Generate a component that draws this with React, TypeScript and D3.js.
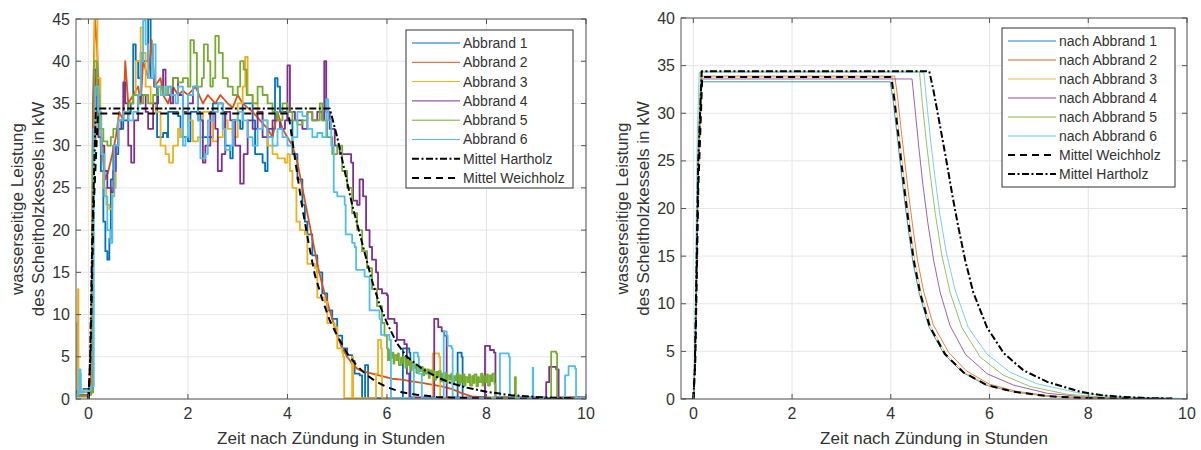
import React from 'react';
import * as d3 from 'd3';

type Pt = [number, number];

const COLORS = ['#0072BD', '#D95319', '#EDB120', '#7E2F8E', '#77AC30', '#4DBEEE'];
const LEFT_LABELS = ['Abbrand 1', 'Abbrand 2', 'Abbrand 3', 'Abbrand 4', 'Abbrand 5', 'Abbrand 6'];
const RIGHT_LABELS = ['nach Abbrand 1', 'nach Abbrand 2', 'nach Abbrand 3', 'nach Abbrand 4', 'nach Abbrand 5', 'nach Abbrand 6'];
const X_TICKS = [0, 2, 4, 6, 8, 10];
const LEFT_Y_TICKS = [0, 5, 10, 15, 20, 25, 30, 35, 40, 45];
const RIGHT_Y_TICKS = [0, 5, 10, 15, 20, 25, 30, 35, 40];
const X_LABEL = 'Zeit nach Zündung in Stunden';
const Y_LABEL_1 = 'wasserseitige Leistung';
const Y_LABEL_2 = 'des Scheitholzkessels in kW';

// ---------- left: measured burns ----------
const abbrand1: Pt[] = [[-0.25,0.5],[-0.23,1],[-0.22,9],[-0.21,1],[-0.18,3],[-0.16,0.8],[-0.1,1.2],[0,1],[0.05,1.5],[0.1,30],[0.14,38],[0.2,33],[0.25,27],[0.3,21],[0.34,17.5],[0.38,16.5],[0.42,19],[0.45,26],[0.5,30],[0.55,29],[0.6,32],[0.7,33],[0.8,34],[0.85,35],[0.9,42],[0.95,40],[1.0,38],[1.05,41],[1.1,40],[1.2,45],[1.25,38],[1.32,37],[1.38,31],[1.5,31.5],[1.58,31],[1.6,34],[1.8,33.5],[1.85,31],[2.0,30.5],[2.05,34],[2.25,33],[2.3,31],[2.45,31],[2.5,35],[2.7,34],[2.75,30],[2.85,28.5],[2.9,33],[3.05,32],[3.1,35],[3.3,33],[3.35,29],[3.5,28],[3.55,27],[3.6,31],[3.7,32],[3.75,38],[3.8,37],[3.85,34],[4.0,33],[4.1,29],[4.2,26],[4.3,23],[4.35,21],[4.4,19.5],[4.5,17],[4.6,15],[4.7,12.5],[4.8,10.5],[4.9,9.5],[5.0,7.5],[5.1,6],[5.2,5.2],[5.3,4.5],[5.35,3],[5.45,2.8],[5.5,0.1],[5.55,0.1],[5.56,4],[5.6,4],[5.62,0.1],[6.3,0.1],[6.32,6],[6.45,5.5],[6.47,0.1],[7.4,0.1],[7.42,5.5],[7.5,5],[7.52,0.1],[10,0.1]];
const abbrand2: Pt[] = [[-0.25,0.3],[-0.2,0.5],[0,0.5],[0.05,1],[0.09,35],[0.13,45],[0.17,42],[0.22,35],[0.28,29],[0.34,26],[0.4,27],[0.48,29],[0.55,31],[0.62,34],[0.7,33],[0.74,40],[0.8,35],[0.9,36],[1.0,37],[1.05,35],[1.1,40],[1.2,38],[1.27,42.5],[1.33,37],[1.45,38],[1.5,36],[1.6,35],[1.7,37],[1.8,36],[1.9,36.5],[2.0,36],[2.15,37],[2.3,35],[2.4,36],[2.55,35],[2.65,36],[2.8,35],[2.9,34.5],[3.0,36],[3.1,35],[3.2,34.5],[3.3,34],[3.45,33],[3.6,32],[3.7,31],[3.8,34],[3.9,32],[4.0,31],[4.1,30],[4.2,28],[4.3,25],[4.4,22],[4.5,19],[4.6,16],[4.7,13.5],[4.8,11.5],[4.9,9.5],[5.0,7.5],[5.1,6],[5.2,5],[5.3,4.2],[5.4,3.6],[5.5,3.3],[5.7,3],[5.9,2.7],[6.1,2.4],[6.3,2.3],[6.5,2.1],[6.7,1.9],[6.9,1.7],[7.1,1.5],[7.3,1.2],[7.5,0.7],[7.7,0.3],[8.0,0.2],[8.5,0.2],[9,0.1],[10,0.2]];
const abbrand3: Pt[] = [[-0.25,0.5],[-0.22,0.5],[-0.21,13],[-0.2,0.8],[-0.1,1],[0,1],[0.05,1.2],[0.08,30],[0.12,45],[0.18,38],[0.24,30],[0.3,25],[0.36,23],[0.42,22.5],[0.48,25],[0.55,30],[0.6,33],[0.7,34],[0.8,35],[0.9,36],[0.95,40],[1.05,44],[1.1,41],[1.15,37],[1.25,35],[1.35,34],[1.45,30],[1.55,29],[1.62,28],[1.7,30],[1.8,32],[1.85,31],[1.9,34],[2.0,33],[2.1,30.5],[2.2,31],[2.3,34],[2.45,33],[2.5,30.5],[2.6,31],[2.7,33],[2.8,32],[2.9,31],[3.0,35],[3.1,37],[3.15,40.5],[3.2,36],[3.3,35],[3.4,34],[3.5,33],[3.6,30],[3.7,29],[3.8,28.5],[3.95,28],[4.0,29],[4.05,27],[4.1,25],[4.18,21],[4.25,20],[4.35,19.5],[4.4,16],[4.55,15.5],[4.6,12],[4.75,11.5],[4.8,9],[4.95,8.5],[5.0,6],[5.1,5.5],[5.12,5],[5.14,0.1],[5.28,0.1],[5.3,5],[5.32,0.1],[5.75,0.1],[5.78,3],[5.82,7],[5.88,6],[5.9,0.1],[6.9,0.1],[6.92,5.4],[7.05,5],[7.07,0.1],[10,0.2]];
const abbrand4: Pt[] = [[-0.25,0.3],[0,0.5],[0.05,0.8],[0.09,30],[0.12,39],[0.16,34],[0.2,31],[0.26,30],[0.32,27],[0.38,25],[0.45,24.5],[0.5,27],[0.55,30],[0.6,32],[0.66,33],[0.7,37.5],[0.74,35],[0.8,30],[0.86,28],[0.92,33],[1.0,35],[1.05,36],[1.15,34],[1.2,32],[1.3,35],[1.4,37],[1.5,39],[1.55,36],[1.65,35],[1.7,38],[1.8,36],[1.9,34],[2.0,35],[2.1,37],[2.2,33],[2.3,28],[2.35,30],[2.45,34],[2.55,32],[2.6,27],[2.68,29],[2.75,34],[2.85,33],[2.95,30],[3.05,25.5],[3.12,29],[3.2,33],[3.3,32],[3.4,34],[3.5,31],[3.6,32],[3.7,33],[3.85,32],[3.95,33],[4.0,39.5],[4.05,34],[4.15,33],[4.3,32],[4.4,34],[4.5,33],[4.6,34],[4.7,33],[4.74,40],[4.78,34],[4.85,32],[4.95,30],[5.05,29],[5.2,29],[5.28,28],[5.32,23.5],[5.4,23],[5.45,26],[5.52,24],[5.58,20],[5.65,18],[5.7,16.5],[5.78,15],[5.82,13],[5.9,12.5],[6.0,12.3],[6.02,9.5],[6.15,9],[6.2,7],[6.35,6.5],[6.4,3],[6.45,0.2],[6.93,0.2],[6.95,9.5],[7.03,8.5],[7.1,8],[7.15,7.5],[7.2,0.2],[7.95,0.2],[7.97,6.3],[8.07,5.8],[8.15,5.5],[8.18,0.2],[9.15,0.2],[9.2,2],[9.26,3.8],[9.4,3.5],[9.45,0.2],[10,0.2]];
const abbrand5: Pt[] = [[-0.25,0.3],[0,0.5],[0.05,0.8],[0.09,30],[0.12,40],[0.17,36],[0.22,32],[0.3,30.5],[0.38,30],[0.45,31],[0.5,32],[0.6,33],[0.7,34],[0.8,35],[0.9,36],[1.0,35],[1.1,36],[1.2,35],[1.3,36],[1.4,37],[1.5,36],[1.6,37],[1.7,38],[1.8,37.5],[1.9,38],[2.0,37],[2.05,42.5],[2.12,41],[2.18,37],[2.28,38],[2.32,42],[2.4,40],[2.45,37],[2.5,38],[2.55,43],[2.62,41],[2.7,38],[2.8,37],[2.9,36],[3.0,37],[3.05,40],[3.12,39],[3.18,36],[3.3,35],[3.4,37],[3.5,36],[3.6,35],[3.7,34],[3.8,33],[3.9,35],[4.0,34],[4.1,33],[4.2,32.5],[4.3,33],[4.4,34],[4.5,33],[4.6,33],[4.65,35],[4.7,33],[4.8,31],[4.9,29],[5.0,30],[5.1,27],[5.2,25],[5.3,22],[5.4,20],[5.5,17.5],[5.6,15.5],[5.7,13],[5.8,11],[5.9,9],[5.95,7.5],[6.0,6],[6.02,4.6],[6.05,5.8],[6.07,4.9],[6.1,5.5],[6.13,4.2],[6.15,5.2],[6.19,4.6],[6.22,5.4],[6.24,4.0],[6.28,4.9],[6.31,4.3],[6.33,5.0],[6.37,3.7],[6.4,4.6],[6.42,4.0],[6.45,4.5],[6.48,3.4],[6.5,4.3],[6.54,3.7],[6.57,4.1],[6.59,3.1],[6.63,3.9],[6.66,3.3],[6.68,3.8],[6.72,2.8],[6.75,3.6],[6.77,3.0],[6.81,3.5],[6.84,2.5],[6.86,3.4],[6.9,2.9],[6.93,3.3],[6.95,2.3],[6.99,3.2],[7.02,2.6],[7.04,3.3],[7.08,2.1],[7.11,3.0],[7.13,2.4],[7.17,3.1],[7.2,1.9],[7.22,2.8],[7.26,2.3],[7.29,3.0],[7.31,1.8],[7.35,2.7],[7.38,2.2],[7.4,3.0],[7.44,1.7],[7.47,2.8],[7.49,2.0],[7.53,2.9],[7.56,1.6],[7.58,2.6],[7.62,2.0],[7.65,2.9],[7.67,1.6],[7.71,2.7],[7.74,1.9],[7.76,2.9],[7.8,1.5],[7.83,2.6],[7.85,2.0],[7.89,3.0],[7.92,1.6],[7.94,2.7],[7.98,2.0],[8.01,2.9],[8.03,1.6],[8.07,2.8],[8.1,2.1],[8.12,3.0],[8.16,1.8],[8.18,0.1],[8.55,0.1],[8.57,2.6],[8.59,0.1],[9.25,0.1],[9.3,5.6],[9.4,5.4],[9.42,0.1],[10,0.1]];
const abbrand6: Pt[] = [[-0.25,0.5],[-0.2,0.8],[-0.18,3.5],[-0.16,0.8],[0,1],[0.05,1.5],[0.1,32],[0.14,37],[0.2,34],[0.26,29],[0.32,24],[0.38,20],[0.44,18.5],[0.48,24],[0.52,30],[0.6,33],[0.7,34],[0.8,33],[0.9,34],[1.0,36],[1.05,40],[1.1,44.8],[1.15,42],[1.2,38],[1.3,42],[1.35,37],[1.45,36],[1.55,37],[1.65,36],[1.75,35],[1.8,37],[1.9,30],[1.95,31],[2.0,36],[2.1,37],[2.2,33],[2.25,28.5],[2.35,29],[2.4,33],[2.5,34],[2.6,35],[2.7,32],[2.75,29.5],[2.85,30],[2.9,33],[3.0,34],[3.1,33],[3.2,31],[3.3,30],[3.4,32],[3.5,33],[3.6,31],[3.7,30],[3.8,32],[3.9,31],[4.0,30],[4.1,31],[4.2,34],[4.3,33.5],[4.4,32],[4.5,31],[4.6,31.5],[4.7,31],[4.78,35.5],[4.82,33],[4.88,30],[4.93,24.5],[5.0,24],[5.15,23],[5.17,19.5],[5.3,18.5],[5.35,18],[5.38,15.3],[5.55,14.5],[5.6,14.5],[5.65,10.5],[5.85,9.5],[5.88,7.6],[6.05,7],[6.08,0.1],[6.52,0.1],[6.54,5.5],[6.62,5],[6.64,3],[6.68,3],[6.7,0.1],[7.12,0.1],[7.14,8],[7.2,7.5],[7.22,6.3],[7.3,6],[7.32,0.1],[8.25,0.1],[8.27,5.4],[8.45,5],[8.47,0.1],[8.92,0.1],[8.93,3.7],[8.94,0.1],[9.55,0.1],[9.58,2.8],[9.65,3.9],[9.78,3.6],[9.8,0.1],[10,0.1]];
const hartholzLeft: Pt[] = [[0,0],[0.03,4],[0.08,20],[0.15,34.4],[4.85,34.4],[5.0,31],[5.15,27],[5.3,23],[5.5,18.5],[5.7,14],[5.85,11.2],[6.0,9],[6.2,6.6],[6.4,5],[6.7,3.6],[7.0,2.6],[7.3,1.85],[7.6,1.35],[8.0,0.85],[8.5,0.45],[9.0,0.25],[9.5,0.12],[9.75,0.08]];
const weichholzLeft: Pt[] = [[0,0],[0.04,5],[0.1,22],[0.19,33.8],[4.02,33.8],[4.15,28.5],[4.28,23.3],[4.42,18.6],[4.55,14.7],[4.7,11.8],[4.85,9.3],[5.0,7.5],[5.2,5.4],[5.4,3.9],[5.6,2.8],[5.8,2.0],[6.0,1.4],[6.3,0.8],[6.6,0.5],[7.0,0.25],[7.5,0.12],[8,0.06],[9,0.03],[9.75,0.02]];

// ---------- right: model after each burn ----------
const nach1: Pt[] = [[-0.25,0],[0.01,0],[0.05,8],[0.1,25],[0.16,33.3],[3.99,33.3],[4.05,31.2],[4.13,27.6],[4.2,24.3],[4.28,20.8],[4.36,17.6],[4.45,14.3],[4.58,11],[4.77,7.6],[5.08,4.7],[5.45,2.8],[5.93,1.45],[6.47,0.76],[7.15,0.3],[7.8,0.12],[8.5,0.05],[9.2,0.02],[10,0]];
const nach2: Pt[] = [[-0.25,0],[0.01,0],[0.05,7],[0.1,24],[0.17,33.9],[4.08,33.9],[4.14,31.6],[4.22,27.8],[4.29,24.6],[4.37,21.1],[4.45,17.9],[4.54,14.6],[4.67,11.2],[4.86,7.8],[5.17,4.9],[5.53,2.95],[6.0,1.55],[6.55,0.8],[7.23,0.32],[7.9,0.13],[8.6,0.05],[9.3,0.02],[10,0]];
const nach3: Pt[] = [[-0.25,0],[0.01,0],[0.05,6],[0.1,23],[0.17,33.8],[4.03,33.8],[4.09,31.5],[4.17,27.8],[4.24,24.5],[4.32,21],[4.4,17.7],[4.49,14.4],[4.62,11],[4.81,7.6],[5.12,4.7],[5.49,2.8],[5.97,1.45],[6.51,0.76],[7.19,0.3],[7.85,0.12],[8.55,0.05],[9.3,0.02],[10,0]];
const nach4: Pt[] = [[-0.25,0],[0.01,0],[0.05,8],[0.1,26],[0.16,33.6],[4.43,33.6],[4.49,30.5],[4.57,26.3],[4.65,22.5],[4.75,18.5],[4.87,14.5],[5.0,11.2],[5.2,7.7],[5.51,4.7],[5.95,2.65],[6.49,1.45],[7.17,0.6],[7.84,0.25],[8.5,0.1],[9.2,0.04],[10,0.01]];
const nach5: Pt[] = [[-0.25,0],[0.01,0],[0.05,9],[0.1,27],[0.15,34.4],[4.58,34.4],[4.64,31],[4.72,27],[4.8,23.5],[4.9,19.5],[5.03,15.2],[5.2,11.2],[5.44,7.5],[5.81,4.4],[6.28,2.5],[6.83,1.3],[7.57,0.5],[8.3,0.2],[9.0,0.08],[10,0.02]];
const nach6: Pt[] = [[-0.25,0],[0.01,0],[0.04,10],[0.08,28],[0.12,34.3],[4.67,34.3],[4.73,31],[4.81,27],[4.89,23.5],[4.99,19.5],[5.12,15.5],[5.3,11.5],[5.57,7.5],[5.95,4.7],[6.42,2.8],[6.96,1.6],[7.84,0.6],[8.5,0.28],[9.2,0.12],[10,0.05]];
const weichholzRight: Pt[] = [[0,0],[0.04,4],[0.1,22],[0.18,33.8],[4.01,33.8],[4.07,31.5],[4.15,27.8],[4.22,24.5],[4.3,21],[4.38,17.7],[4.47,14.4],[4.6,11],[4.79,7.6],[5.1,4.7],[5.47,2.8],[5.95,1.45],[6.49,0.76],[7.17,0.3],[7.8,0.12],[8.5,0.05],[9.7,0.02]];
const hartholzRight: Pt[] = [[0,0],[0.03,3],[0.1,25],[0.17,34.4],[4.78,34.4],[4.86,32.5],[4.95,30],[5.05,27.2],[5.15,24.3],[5.25,21.3],[5.37,18],[5.51,14.5],[5.67,11.2],[5.95,7.5],[6.29,4.8],[6.69,3.0],[7.17,1.8],[7.84,0.76],[8.25,0.41],[8.7,0.22],[9.2,0.1],[9.7,0.05]];

const FONT = '"Liberation Sans", Arial, Helvetica, sans-serif';
const TEXT_COLOR = '#333333';
const AXIS_COLOR = '#555555';
const GRID_COLOR = '#e6e6e6';
const DASH_DOT = '7,2.5,2,2.5';
const DASHED = '7,5';

type Series = { data: Pt[]; color: string; width: number; dash?: string; opacity?: number; step?: boolean };
type LegendItem = { label: string; color: string; width: number; dash?: string; opacity?: number };

interface PanelProps {
  id: string;
  left: number; right: number; top: number; bottom: number;
  yMax: number; yTicks: number[];
  series: Series[];
  legend: LegendItem[];
  legendBox: { x: number; y: number; w: number; h: number; first: number; step: number };
  yLabelX1: number; yLabelX2: number;
}

function Panel(p: PanelProps) {
  const x = d3.scaleLinear().domain([-0.25, 10]).range([p.left, p.right]);
  const y = d3.scaleLinear().domain([0, p.yMax]).range([p.bottom, p.top]);
  const line = d3.line<Pt>().x(d => x(d[0])).y(d => y(d[1]));
  const stepLine = d3.line<Pt>().x(d => x(d[0])).y(d => y(d[1])).curve(d3.curveStepAfter);
  const tick = 5;
  const cy = (p.top + p.bottom) / 2;
  const cx = (p.left + p.right) / 2;
  const lb = p.legendBox;
  return (
    <g>
      <defs>
        <clipPath id={p.id}>
          <rect x={p.left} y={p.top} width={p.right - p.left} height={p.bottom - p.top} />
        </clipPath>
      </defs>
      {X_TICKS.map(t => (
        <line key={'gx' + t} x1={x(t)} x2={x(t)} y1={p.top} y2={p.bottom} stroke={GRID_COLOR} strokeWidth={1} />
      ))}
      {p.yTicks.map(t => (
        <line key={'gy' + t} x1={p.left} x2={p.right} y1={y(t)} y2={y(t)} stroke={GRID_COLOR} strokeWidth={1} />
      ))}
      <g clipPath={`url(#${p.id})`}>
        {p.series.map((s, i) => (
          <path key={i} d={(s.step ? stepLine(s.data) : line(s.data)) || ''} fill="none" stroke={s.color} strokeWidth={s.width}
            strokeDasharray={s.dash} strokeOpacity={s.opacity ?? 1} strokeLinejoin="round" />
        ))}
      </g>
      <rect x={p.left} y={p.top} width={p.right - p.left} height={p.bottom - p.top} fill="none" stroke={AXIS_COLOR} strokeWidth={1} />
      {X_TICKS.map(t => (
        <g key={'tx' + t}>
          <line x1={x(t)} x2={x(t)} y1={p.bottom} y2={p.bottom - tick} stroke={AXIS_COLOR} />
          <line x1={x(t)} x2={x(t)} y1={p.top} y2={p.top + tick} stroke={AXIS_COLOR} />
          <text x={x(t)} y={p.bottom + 20} textAnchor="middle" fontSize={16} fill={TEXT_COLOR} fontFamily={FONT}>{t}</text>
        </g>
      ))}
      {p.yTicks.map(t => (
        <g key={'ty' + t}>
          <line x1={p.left} x2={p.left + tick} y1={y(t)} y2={y(t)} stroke={AXIS_COLOR} />
          <line x1={p.right} x2={p.right - tick} y1={y(t)} y2={y(t)} stroke={AXIS_COLOR} />
          <text x={p.left - 6} y={y(t)} dy="0.35em" textAnchor="end" fontSize={16} fill={TEXT_COLOR} fontFamily={FONT}>{t}</text>
        </g>
      ))}
      <text x={cx} y={p.bottom + 45} textAnchor="middle" fontSize={17} fill={TEXT_COLOR} fontFamily={FONT}>{X_LABEL}</text>
      <text transform={`translate(${p.yLabelX1},${cy}) rotate(-90)`} textAnchor="middle" dy="0.35em" fontSize={17} fill={TEXT_COLOR} fontFamily={FONT}>{Y_LABEL_1}</text>
      <text transform={`translate(${p.yLabelX2},${cy}) rotate(-90)`} textAnchor="middle" dy="0.35em" fontSize={17} fill={TEXT_COLOR} fontFamily={FONT}>{Y_LABEL_2}</text>
      <rect x={lb.x} y={lb.y} width={lb.w} height={lb.h} fill="#ffffff" stroke="#333333" strokeWidth={1} />
      {p.legend.map((it, i) => {
        const ly = lb.first + i * lb.step;
        return (
          <g key={'lg' + i}>
            <line x1={lb.x + 6} x2={lb.x + 54} y1={ly} y2={ly} stroke={it.color} strokeWidth={it.width}
              strokeDasharray={it.dash} strokeOpacity={it.opacity ?? 1} />
            <text x={lb.x + 57} y={ly} dy="0.35em" fontSize={14} fill={TEXT_COLOR} fontFamily={FONT}>{it.label}</text>
          </g>
        );
      })}
    </g>
  );
}

export default function App() {
  const leftData = [abbrand1, abbrand2, abbrand3, abbrand4, abbrand5, abbrand6];
  const rightData = [nach1, nach2, nach3, nach4, nach5, nach6];
  const leftSeries: Series[] = [
    ...leftData.map((d, i) => ({ data: d, color: COLORS[i], width: 1.8, step: i !== 1 })),
    { data: hartholzLeft, color: '#000', width: 2, dash: DASH_DOT },
    { data: weichholzLeft, color: '#000', width: 2, dash: DASHED },
  ];
  const rightSeries: Series[] = [
    ...rightData.map((d, i) => ({ data: d, color: COLORS[i], width: 1, opacity: 0.75 })),
    { data: weichholzRight, color: '#000', width: 2, dash: DASHED },
    { data: hartholzRight, color: '#000', width: 2, dash: DASH_DOT },
  ];
  const leftLegend: LegendItem[] = [
    ...LEFT_LABELS.map((l, i) => ({ label: l, color: COLORS[i], width: 1 })),
    { label: 'Mittel Hartholz', color: '#000', width: 2, dash: DASH_DOT },
    { label: 'Mittel Weichholz', color: '#000', width: 2, dash: DASHED },
  ];
  const rightLegend: LegendItem[] = [
    ...RIGHT_LABELS.map((l, i) => ({ label: l, color: COLORS[i], width: 1.5, opacity: 0.6 })),
    { label: 'Mittel Weichholz', color: '#000', width: 2, dash: DASHED },
    { label: 'Mittel Hartholz', color: '#000', width: 2, dash: DASH_DOT },
  ];
  return (
    <svg width={1201} height={450} style={{ position: 'absolute', left: 0, top: 0, background: '#fff' }}>
      <rect x={0} y={0} width={1201} height={450} fill="#ffffff" />
      <Panel id="clipL" left={76} right={586} top={19} bottom={399} yMax={45} yTicks={LEFT_Y_TICKS}
        series={leftSeries} legend={leftLegend}
        legendBox={{ x: 406, y: 30, w: 167, h: 158, first: 43, step: 19.3 }}
        yLabelX1={17} yLabelX2={38} />
      <Panel id="clipR" left={681} right={1187} top={18} bottom={399} yMax={40} yTicks={RIGHT_Y_TICKS}
        series={rightSeries} legend={rightLegend}
        legendBox={{ x: 1002, y: 28, w: 173, h: 159, first: 41, step: 19 }}
        yLabelX1={622} yLabelX2={643} />
    </svg>
  );
}
